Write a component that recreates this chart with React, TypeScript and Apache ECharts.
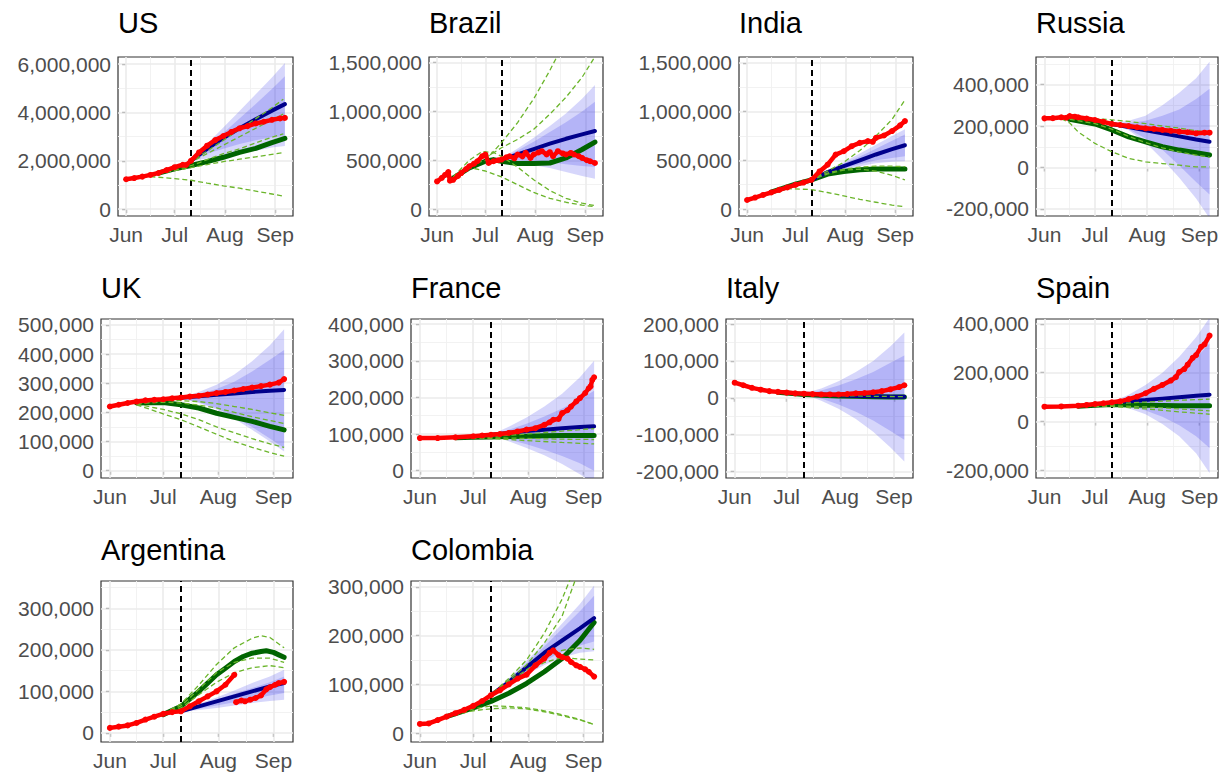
import React, { useEffect, useRef } from 'react';
import * as echarts from 'echarts';

// ---- shared axis data ----
const MONTH_DAYS = [0, 30, 61, 92]; // days since Jun 1
const MONTH_LABELS = ['Jun', 'Jul', 'Aug', 'Sep'];
const FORECAST_DAY = 40; // Jul 11
const BAND_DAYS = [40, 50, 60, 70, 80, 90, 98];
const X_MIN = -5;
const X_MAX = 103;

// ---- US (thousands) ----
const US_RED = [[0,1240],[5,1290],[10,1350],[15,1420],[20,1500],[25,1620],[30,1740],[35,1840],[37,1830],[40,2000],[45,2350],[50,2630],[55,2860],[60,3030],[65,3200],[70,3350],[75,3440],[80,3550],[85,3620],[90,3700],[95,3760],[98,3780]];
const US_BLUE = [[40,2000],[50,2500],[60,2950],[70,3350],[80,3720],[90,4080],[98,4350]];
const US_GREEN = [[20,1500],[30,1670],[40,1810],[50,1970],[60,2150],[70,2350],[80,2520],[90,2760],[98,2930]];
const US_OUT_HI = [2000,2700,3380,4070,4760,5450,6050];
const US_IN_HI = [2000,2550,3150,3750,4350,4980,5500];
const US_IN_LO = [2000,2300,2500,2700,2850,2980,3050];
const US_OUT_LO = [2000,2100,2200,2300,2420,2550,2620];
const US_DASH = [
  [[15,1400],[30,1700],[40,2000],[50,2400],[60,2850],[70,3300],[80,3750],[90,4200],[97,4550]],
  [[15,1400],[30,1680],[40,1950],[50,2300],[60,2650],[70,3000],[80,3350],[90,3700],[97,3940]],
  [[15,1400],[30,1620],[40,1800],[50,2050],[60,2300],[70,2500],[80,2750],[90,2980],[97,3120]],
  [[15,1400],[30,1600],[40,1720],[50,1850],[60,1970],[70,2070],[80,2170],[90,2270],[97,2340]],
  [[15,1350],[30,1270],[40,1200],[50,1080],[60,970],[70,870],[80,750],[90,630],[97,540]],
];
const US_YTICKS = [0, 2000, 4000, 6000];

// ---- Brazil ----
const BR_RED = [[0,283],[3,320],[5,350],[7,380],[8,290],[10,300],[13,340],[15,369],[18,410],[20,438],[23,465],[25,490],[28,541],[30,559],[32,472],[35,490],[38,500],[40,507],[43,530],[45,541],[48,520],[50,559],[53,540],[55,576],[58,524],[60,559],[63,580],[65,593],[68,560],[70,583],[72,541],[75,593],[78,570],[80,559],[83,575],[85,559],[88,541],[90,524],[93,500],[95,490],[98,472]];
const BR_BLUE = [[40,507],[50,560],[60,615],[70,670],[80,720],[90,765],[98,800]];
const BR_GREEN = [[10,317],[20,421],[30,490],[35,507],[40,490],[50,466],[60,466],[70,472],[80,524],[90,610],[98,686]];
const BR_OUT_HI = [520,620,730,850,980,1130,1270];
const BR_IN_HI = [510,600,690,790,890,1000,1100];
const BR_IN_LO = [500,500,490,480,460,440,430];
const BR_OUT_LO = [500,480,450,420,380,340,310];
const BR_DASH = [
  [[20,450],[30,500],[40,680],[50,886],[60,1130],[70,1420],[75,1580],[80,1750]],
  [[30,524],[40,628],[50,714],[60,817],[70,972],[80,1145],[90,1350],[98,1560]],
  [[10,330],[20,500],[28,590],[35,580],[40,540],[50,430],[60,300],[70,190],[80,110],[90,60],[98,35]],
  [[10,320],[18,410],[22,420],[30,390],[40,330],[50,250],[60,170],[70,110],[80,70],[90,40],[98,25]],
];
const BR_YTICKS = [0, 500, 1000, 1500];

// ---- India ----
const IN_RED = [[0,93],[5,118],[10,145],[15,170],[20,197],[25,222],[30,248],[35,272],[40,300],[45,386],[50,455],[55,559],[60,593],[65,645],[70,679],[75,697],[78,690],[80,731],[85,755],[90,800],[95,859],[98,903]];
const IN_BLUE = [[40,300],[50,380],[60,440],[70,500],[80,560],[90,615],[98,655]];
const IN_GREEN = [[15,175],[30,255],[40,300],[50,359],[60,386],[70,403],[80,410],[90,410],[98,410]];
const IN_OUT_HI = [300,400,480,570,660,750,820];
const IN_IN_HI = [300,390,465,540,620,700,766];
const IN_IN_LO = [300,370,420,460,500,525,541];
const IN_OUT_LO = [300,360,405,440,470,485,490];
const IN_DASH = [
  [[15,175],[30,255],[40,310],[50,390],[60,480],[70,600],[80,750],[90,920],[98,1120]],
  [[15,175],[30,255],[40,310],[50,370],[60,410],[70,430],[80,440],[90,440],[98,435]],
  [[15,175],[30,250],[40,300],[50,360],[60,400],[70,410],[80,390],[90,345],[98,300]],
  [[15,175],[25,210],[40,200],[50,170],[60,135],[70,100],[80,70],[90,40],[98,25]],
];
const IN_YTICKS = [0, 500, 1000, 1500];

// ---- Russia ----
const RU_RED = [[0,237],[5,238],[10,242],[13,240],[15,248],[18,245],[20,242],[25,236],[30,229],[35,220],[40,210],[45,205],[50,200],[55,194],[60,189],[65,186],[70,181],[75,177],[80,173],[85,170],[90,165],[95,168],[98,168]];
const RU_BLUE = [[40,210],[50,195],[60,180],[70,165],[80,150],[90,135],[98,124]];
const RU_GREEN = [[15,232],[30,210],[40,181],[50,148],[60,124],[70,100],[80,84],[90,71],[98,60]];
const RU_OUT_HI = [215,225,250,300,360,430,510];
const RU_IN_HI = [212,215,225,250,280,330,380];
const RU_IN_LO = [210,185,140,85,10,-70,-130];
const RU_OUT_LO = [210,180,120,40,-50,-150,-245];
const RU_DASH = [
  [[15,235],[30,235],[40,230],[50,222],[60,212],[70,200],[80,190],[90,178],[98,170]],
  [[15,232],[30,212],[40,185],[50,150],[60,120],[70,95],[80,75],[90,60],[98,50]],
  [[10,235],[15,215],[20,172],[30,116],[40,76],[50,44],[60,27],[70,19],[80,11],[90,3],[98,3]],
];
const RU_YTICKS = [-200, 0, 200, 400];

// ---- UK ----
const UK_RED = [[0,220],[5,226],[10,232],[15,237],[20,241],[25,243],[30,245],[35,248],[40,251],[45,254],[50,257],[55,261],[60,266],[65,270],[70,275],[75,280],[80,285],[85,290],[90,295],[95,302],[98,314]];
const UK_BLUE = [[40,250],[50,255],[60,260],[70,265],[80,270],[90,274],[98,277]];
const UK_GREEN = [[15,232],[30,234],[40,226],[50,215],[60,197],[70,183],[80,169],[90,152],[98,140]];
const UK_OUT_HI = [250,270,295,330,375,430,485];
const UK_IN_HI = [250,262,280,305,340,380,414];
const UK_IN_LO = [248,235,215,185,150,110,78];
const UK_OUT_LO = [248,232,210,178,140,100,66];
const UK_DASH = [
  [[15,230],[30,240],[40,240],[50,237],[60,230],[70,220],[80,210],[90,198],[98,190]],
  [[15,230],[30,235],[40,232],[50,225],[60,215],[70,200],[80,185],[90,172],[98,162]],
  [[15,228],[30,210],[40,195],[50,175],[60,150],[70,130],[80,110],[90,92],[98,80]],
  [[15,226],[30,195],[40,175],[50,150],[60,125],[70,100],[80,80],[90,62],[98,50]],
];
const UK_YTICKS = [0, 100, 200, 300, 400, 500];

// ---- France ----
const FR_RED = [[0,89],[10,89],[20,91],[30,94],[35,96],[40,98],[45,100],[50,103],[55,107],[60,112],[65,116],[70,125],[73,132],[75,139],[78,141],[80,157],[83,165],[85,175],[88,189],[90,198],[93,212],[95,225],[96,230],[97,248],[98,255]];
const FR_BLUE = [[40,98],[50,103],[60,108],[70,112],[80,116],[90,119],[98,121]];
const FR_GREEN = [[20,90],[30,91],[40,92],[50,93],[60,94],[70,95],[80,96],[90,96],[98,96]];
const FR_OUT_HI = [98,120,145,175,210,255,300];
const FR_IN_HI = [98,112,128,148,170,195,218];
const FR_IN_LO = [96,85,72,57,40,20,0];
const FR_OUT_LO = [96,80,62,42,18,-10,-35];
const FR_DASH = [
  [[20,90],[40,93],[60,100],[80,108],[98,115]],
  [[20,90],[40,90],[60,88],[80,86],[98,85]],
  [[20,90],[40,88],[60,82],[80,77],[98,73]],
];
const FR_YTICKS = [0, 100, 200, 300, 400];

// ---- Italy ----
const IT_RED = [[0,41],[5,34],[10,27],[15,22],[20,18],[25,16],[30,14],[35,12],[40,11],[45,10],[50,9],[55,9],[60,9],[65,10],[70,12],[75,13],[80,15],[85,18],[90,23],[95,29],[98,34]];
const IT_BLUE = [[40,11],[50,9],[60,7],[70,5],[80,4],[90,3],[98,3]];
const IT_GREEN = [[25,15],[30,13],[40,9],[50,7],[60,5],[70,4],[80,3],[90,2],[98,2]];
const IT_OUT_HI = [12,25,45,70,100,140,177];
const IT_IN_HI = [11,20,33,50,70,95,115];
const IT_IN_LO = [10,-2,-18,-38,-62,-90,-114];
const IT_OUT_LO = [10,-8,-30,-58,-92,-135,-173];
const IT_DASH = [
  [[25,15],[40,10],[60,6],[80,4],[98,3]],
];
const IT_YTICKS = [-200, -100, 0, 100, 200];

// ---- Spain ----
const ES_RED = [[0,61],[10,62],[20,65],[25,68],[30,72],[35,75],[40,79],[45,83],[50,92],[55,102],[60,116],[65,134],[70,150],[75,168],[78,182],[80,203],[83,215],[85,233],[88,261],[90,272],[93,306],[95,316],[98,352]];
const ES_BLUE = [[40,79],[50,83],[60,88],[70,94],[80,100],[90,106],[98,110]];
const ES_GREEN = [[20,63],[30,67],[40,70],[50,68],[60,67],[70,66],[80,65],[90,65],[98,65]];
const ES_OUT_HI = [80,110,150,200,265,345,425];
const ES_IN_HI = [80,100,125,160,205,260,320];
const ES_IN_LO = [78,65,45,20,-15,-60,-108];
const ES_OUT_LO = [78,55,30,-10,-60,-130,-211];
const ES_DASH = [
  [[20,62],[40,72],[60,80],[80,87],[98,92]],
  [[20,62],[40,65],[60,60],[80,52],[98,44]],
  [[20,62],[40,62],[60,52],[80,40],[98,30]],
];
const ES_YTICKS = [-200, 0, 200, 400];

// ---- Argentina ----
const AR_RED = [[0,12],[5,15],[10,18],[15,24],[20,32],[25,39],[30,46],[35,50],[40,52],[45,64],[50,76],[55,88],[60,100],[65,116],[70,140],[70.5,null],[71,74],[74,78],[76,76],[79,80],[82,84],[85,90],[88,105],[90,110],[93,116],[95,120],[98,123]];
const AR_BLUE = [[40,52],[50,64],[60,76],[70,88],[80,100],[90,112],[98,120]];
const AR_GREEN = [[30,44],[40,64],[50,100],[55,120],[60,140],[65,156],[70,172],[75,184],[80,192],[85,196],[88,198],[92,194],[95,188],[98,182]];
const AR_OUT_HI = [53,70,85,102,120,136,152];
const AR_IN_HI = [53,66,80,94,108,122,136];
const AR_IN_LO = [51,58,66,74,82,90,96];
const AR_OUT_LO = [51,55,60,66,72,77,80];
const AR_DASH = [
  [[30,46],[40,70],[50,115],[60,165],[70,205],[80,228],[85,234],[90,230],[98,205]],
  [[30,45],[40,65],[50,105],[60,145],[70,170],[80,180],[90,180],[98,170]],
  [[30,45],[40,60],[50,92],[60,122],[70,145],[80,157],[90,162],[98,157]],
];
const AR_YTICKS = [0, 100, 200, 300];

// ---- Colombia ----
const CO_RED = [[0,19],[5,20],[10,27],[15,34],[20,41],[25,48],[30,56],[35,66],[40,78],[45,88],[50,100],[55,112],[60,120],[65,139],[70,153],[73,165],[75,170],[78,160],[80,156],[83,153],[85,146],[88,139],[90,136],[93,131],[95,126],[98,116]];
const CO_BLUE = [[40,78],[50,105],[60,135],[70,165],[80,190],[90,215],[98,236]];
const CO_GREEN = [[15,34],[30,52],[40,65],[50,82],[60,102],[70,126],[80,153],[90,190],[98,227]];
const CO_OUT_HI = [80,112,148,185,225,265,303];
const CO_IN_HI = [80,110,143,178,214,250,282];
const CO_IN_LO = [78,102,125,148,167,180,188];
const CO_OUT_LO = [78,98,120,140,155,165,168];
const CO_DASH = [
  [[30,56],[40,80],[50,112],[60,150],[70,205],[80,275],[85,320]],
  [[30,56],[40,79],[50,108],[60,140],[70,185],[80,240],[88,320]],
  [[30,56],[40,78],[50,105],[60,130],[70,155],[80,170],[90,175],[98,172]],
  [[30,56],[40,78],[50,100],[60,125],[70,145],[80,155],[90,152],[98,150]],
  [[15,34],[30,50],[40,56],[50,55],[60,52],[70,46],[80,38],[90,28],[98,18]],
  [[15,34],[30,46],[40,50],[50,52],[60,50],[70,44],[80,36],[90,27],[98,18]],
];
const CO_YTICKS = [0, 100, 200, 300];

const PANELS = [
  { name: 'US', yRange: [-280, 6300], yTicks: US_YTICKS, red: US_RED, blue: US_BLUE, green: US_GREEN, dash: US_DASH, outHi: US_OUT_HI, outLo: US_OUT_LO, inHi: US_IN_HI, inLo: US_IN_LO },
  { name: 'Brazil', yRange: [-71, 1558], yTicks: BR_YTICKS, red: BR_RED, blue: BR_BLUE, green: BR_GREEN, dash: BR_DASH, outHi: BR_OUT_HI, outLo: BR_OUT_LO, inHi: BR_IN_HI, inLo: BR_IN_LO },
  { name: 'India', yRange: [-71, 1560], yTicks: IN_YTICKS, red: IN_RED, blue: IN_BLUE, green: IN_GREEN, dash: IN_DASH, outHi: IN_OUT_HI, outLo: IN_OUT_LO, inHi: IN_IN_HI, inLo: IN_IN_LO },
  { name: 'Russia', yRange: [-234, 533], yTicks: RU_YTICKS, red: RU_RED, blue: RU_BLUE, green: RU_GREEN, dash: RU_DASH, outHi: RU_OUT_HI, outLo: RU_OUT_LO, inHi: RU_IN_HI, inLo: RU_IN_LO },
  { name: 'UK', yRange: [-25, 520], yTicks: UK_YTICKS, red: UK_RED, blue: UK_BLUE, green: UK_GREEN, dash: UK_DASH, outHi: UK_OUT_HI, outLo: UK_OUT_LO, inHi: UK_IN_HI, inLo: UK_IN_LO },
  { name: 'France', yRange: [-20, 414], yTicks: FR_YTICKS, red: FR_RED, blue: FR_BLUE, green: FR_GREEN, dash: FR_DASH, outHi: FR_OUT_HI, outLo: FR_OUT_LO, inHi: FR_IN_HI, inLo: FR_IN_LO },
  { name: 'Italy', yRange: [-218, 214], yTicks: IT_YTICKS, red: IT_RED, blue: IT_BLUE, green: IT_GREEN, dash: IT_DASH, outHi: IT_OUT_HI, outLo: IT_OUT_LO, inHi: IT_IN_HI, inLo: IT_IN_LO },
  { name: 'Spain', yRange: [-231, 420], yTicks: ES_YTICKS, red: ES_RED, blue: ES_BLUE, green: ES_GREEN, dash: ES_DASH, outHi: ES_OUT_HI, outLo: ES_OUT_LO, inHi: ES_IN_HI, inLo: ES_IN_LO },
  { name: 'Argentina', yRange: [-22, 366], yTicks: AR_YTICKS, red: AR_RED, blue: AR_BLUE, green: AR_GREEN, dash: AR_DASH, outHi: AR_OUT_HI, outLo: AR_OUT_LO, inHi: AR_IN_HI, inLo: AR_IN_LO },
  { name: 'Colombia', yRange: [-18, 312], yTicks: CO_YTICKS, red: CO_RED, blue: CO_BLUE, green: CO_GREEN, dash: CO_DASH, outHi: CO_OUT_HI, outLo: CO_OUT_LO, inHi: CO_IN_HI, inLo: CO_IN_LO },
];

// layout (pixels): plot panel boxes and title tops
const LAYOUT = [
  { left: 118, top: 57, width: 175, height: 159, titleTop: 8 },
  { left: 429, top: 57, width: 174, height: 159, titleTop: 8 },
  { left: 739, top: 57, width: 174, height: 159, titleTop: 8 },
  { left: 1036, top: 57, width: 182, height: 159, titleTop: 8 },
  { left: 101, top: 319, width: 192, height: 159, titleTop: 273 },
  { left: 411, top: 319, width: 192, height: 159, titleTop: 273 },
  { left: 726, top: 319, width: 187, height: 159, titleTop: 273 },
  { left: 1036, top: 319, width: 182, height: 159, titleTop: 273 },
  { left: 101, top: 581, width: 192, height: 161, titleTop: 535 },
  { left: 411, top: 581, width: 192, height: 161, titleTop: 535 },
];

const FONT = "'Liberation Sans', Arial, sans-serif";
const K = 1000;
const BAND_FILL = 'rgba(30,30,235,0.18)';
const scale = (pts: any[]) => pts.map(([d, v]) => [d, v == null ? '-' : v * K]);

function minorBreaks(majors: number[], lo: number, hi: number) {
  const out: number[] = [];
  const step = majors[1] - majors[0];
  const ext = [majors[0] - step, ...majors, majors[majors.length - 1] + step];
  for (let i = 0; i < ext.length - 1; i++) {
    const m = (ext[i] + ext[i + 1]) / 2;
    if (m > lo && m < hi) out.push(m);
  }
  return out;
}

function bandRenderItem(params: any, api: any) {
  if (params.dataIndexInside !== 0) return null;
  const n = params.dataInsideLength;
  const top: number[][] = [];
  const bot: number[][] = [];
  for (let k = 0; k < n; k++) {
    const x = api.value(0, k);
    top.push(api.coord([x, api.value(2, k)]));
    bot.push(api.coord([x, api.value(1, k)]));
  }
  return {
    type: 'polygon',
    shape: { points: top.concat(bot.reverse()) },
    style: { fill: BAND_FILL },
    silent: true,
  };
}

function buildOption() {
  const grid: any[] = [];
  const xAxis: any[] = [];
  const yAxis: any[] = [];
  const title: any[] = [];
  const series: any[] = [];

  PANELS.forEach((p, i) => {
    const L = LAYOUT[i];
    const yMin = p.yRange[0] * K;
    const yMax = p.yRange[1] * K;
    const yTicks = p.yTicks.map((v) => v * K);

    grid.push({
      left: L.left, top: L.top, width: L.width, height: L.height,
      show: true, backgroundColor: '#FFFFFF', borderColor: '#333333', borderWidth: 1.2,
      containLabel: false, outerBoundsMode: 'none',
    });
    title.push({
      text: p.name, left: L.left, top: L.titleTop, padding: 0,
      textStyle: { fontSize: 29, fontWeight: 'normal', color: '#000000', fontFamily: FONT },
    });
    xAxis.push({
      type: 'value', gridIndex: i, min: X_MIN, max: X_MAX,
      splitLine: { show: false }, axisLine: { show: false },
      axisTick: { show: true, customValues: MONTH_DAYS, length: 4, lineStyle: { color: '#333333', width: 1.2 } },
      axisLabel: {
        show: true, customValues: MONTH_DAYS, margin: 8, fontSize: 21, color: '#4D4D4D', fontFamily: FONT,
        formatter: (v: number) => { const k = MONTH_DAYS.indexOf(v); return k >= 0 ? MONTH_LABELS[k] : ''; },
      },
    });
    yAxis.push({
      type: 'value', gridIndex: i, min: yMin, max: yMax,
      splitLine: { show: false }, axisLine: { show: false },
      axisTick: { show: true, customValues: yTicks, length: 4, lineStyle: { color: '#333333', width: 1.2 } },
      axisLabel: {
        show: true, customValues: yTicks, margin: 7, fontSize: 21, color: '#4D4D4D', fontFamily: FONT,
        formatter: (v: number) => Math.round(v).toLocaleString('en-US'),
      },
    });

    // background grid lines (major + minor)
    const gl: any[] = [];
    const major = { color: '#EBEBEB', width: 1.6 };
    const minor = { color: '#F0F0F0', width: 0.9 };
    minorBreaks(MONTH_DAYS, X_MIN, X_MAX).forEach((x) => gl.push({ coords: [[x, yMin], [x, yMax]], lineStyle: minor }));
    minorBreaks(yTicks, yMin, yMax).forEach((y) => gl.push({ coords: [[X_MIN, y], [X_MAX, y]], lineStyle: minor }));
    MONTH_DAYS.forEach((x) => gl.push({ coords: [[x, yMin], [x, yMax]], lineStyle: major }));
    yTicks.forEach((y) => gl.push({ coords: [[X_MIN, y], [X_MAX, y]], lineStyle: major }));
    series.push({
      type: 'lines', coordinateSystem: 'cartesian2d', xAxisIndex: i, yAxisIndex: i,
      z: 1, silent: true, data: gl, lineStyle: { opacity: 1 },
    });

    // prediction bands (outer then inner)
    const addBand = (lo: number[], hi: number[]) => {
      series.push({
        type: 'custom', xAxisIndex: i, yAxisIndex: i, clip: true, z: 2, silent: true,
        data: BAND_DAYS.map((d, k) => [d, lo[k] * K, hi[k] * K]),
        encode: { x: 0, y: [1, 2] },
        renderItem: bandRenderItem,
      });
    };
    addBand(p.outLo, p.outHi);
    addBand(p.inLo, p.inHi);

    // forecast-start dashed line
    series.push({
      type: 'lines', coordinateSystem: 'cartesian2d', xAxisIndex: i, yAxisIndex: i, z: 3, silent: true,
      data: [{ coords: [[FORECAST_DAY, yMin], [FORECAST_DAY, yMax]] }],
      lineStyle: { color: '#000000', width: 2, type: [6, 4], opacity: 1 },
    });

    // thick green
    series.push({
      type: 'line', xAxisIndex: i, yAxisIndex: i, data: scale(p.green), symbol: 'none', showSymbol: false,
      lineStyle: { color: '#006400', width: 5, cap: 'round', join: 'round' }, z: 4, silent: true,
    });
    // dark blue
    series.push({
      type: 'line', xAxisIndex: i, yAxisIndex: i, data: scale(p.blue), symbol: 'none', showSymbol: false,
      lineStyle: { color: '#00008B', width: 4, cap: 'round' }, z: 5, silent: true,
    });
    // dashed greens
    p.dash.forEach((d: any) => {
      series.push({
        type: 'line', xAxisIndex: i, yAxisIndex: i, data: scale(d), symbol: 'none', showSymbol: false,
        lineStyle: { color: '#6BB52B', width: 1.3, type: [5, 3] }, z: 6, silent: true,
      });
    });
    // red observed
    series.push({
      type: 'line', xAxisIndex: i, yAxisIndex: i, data: scale(p.red), connectNulls: false,
      symbol: 'circle', symbolSize: 6, showSymbol: true, showAllSymbol: true,
      itemStyle: { color: '#FF0000', borderWidth: 0 },
      lineStyle: { color: '#FF0000', width: 4.5, join: 'round', cap: 'round' }, z: 7, silent: true,
    });
  });

  return {
    animation: false,
    backgroundColor: '#FFFFFF',
    textStyle: { fontFamily: FONT },
    title, grid, xAxis, yAxis, series,
  };
}

export default function App() {
  const ref = useRef<HTMLDivElement>(null);
  useEffect(() => {
    if (!ref.current) return;
    const chart = echarts.init(ref.current, undefined, { renderer: 'svg' });
    chart.setOption(buildOption() as any);
    return () => chart.dispose();
  }, []);
  return (
    <div
      ref={ref}
      style={{ position: 'absolute', left: 0, top: 0, width: 1226, height: 774, background: '#fff' }}
    />
  );
}
